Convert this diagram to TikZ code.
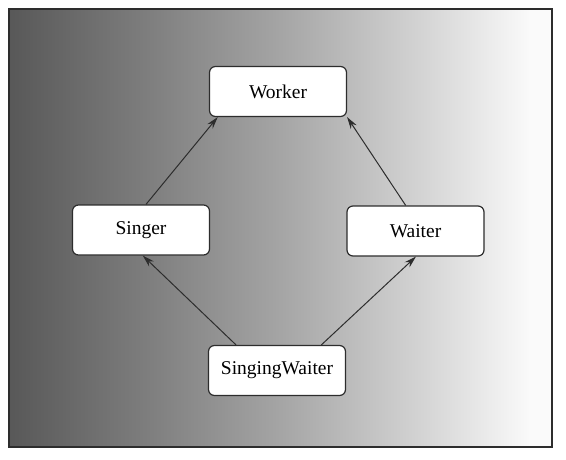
\documentclass[tikz,border=0pt]{standalone}
\usepackage{fontspec}
\setmainfont{Liberation Serif}
\usetikzlibrary{arrows.meta}
\definecolor{g0}{RGB}{88,88,88}
\definecolor{g1}{RGB}{125,125,125}
\definecolor{g2}{RGB}{165,165,165}
\definecolor{g3}{RGB}{210,210,210}
\definecolor{g4}{RGB}{250,250,250}
\definecolor{edge}{RGB}{45,45,45}
\pgfdeclarehorizontalshading{bgshade}{100bp}{color(0bp)=(g0); color(25bp)=(g0); color(37.5bp)=(g1); color(50bp)=(g2); color(62.5bp)=(g3); color(73bp)=(g4); color(100bp)=(g4)}
\tikzset{
  cls/.style={draw=edge, line width=1.2pt, fill=white, rounded corners=6pt, minimum width=137pt, minimum height=50pt, inner sep=0pt, font=\fontsize{19.5}{22}\selectfont},
  inh/.style={draw=edge, line width=1pt, -{Stealth[length=12pt,width=7pt]}}
}
\begin{document}
\begin{tikzpicture}[x=1pt,y=-1pt]
\useasboundingbox (0,0) rectangle (566,459);
\path[shading=bgshade] (9,9) rectangle (552,447);
\draw[edge, line width=1.5pt] (9,9) rectangle (552,447);
\node[cls] (worker) at (278,91.5) {Worker};
\node[cls] (singer) at (141,230) {Singer};
\node[cls] (waiter) at (415.5,231) {Waiter};
\node[cls] (sw) at (277,370.5) {SingingWaiter};
\draw[inh] (singer.79) -- (worker.203);
\draw[inh] (waiter.111) -- (worker.south east);
\draw[inh] (sw.148) -- (singer.274);
\draw[inh] (sw.30) -- (waiter.271);
\end{tikzpicture}
\end{document}
